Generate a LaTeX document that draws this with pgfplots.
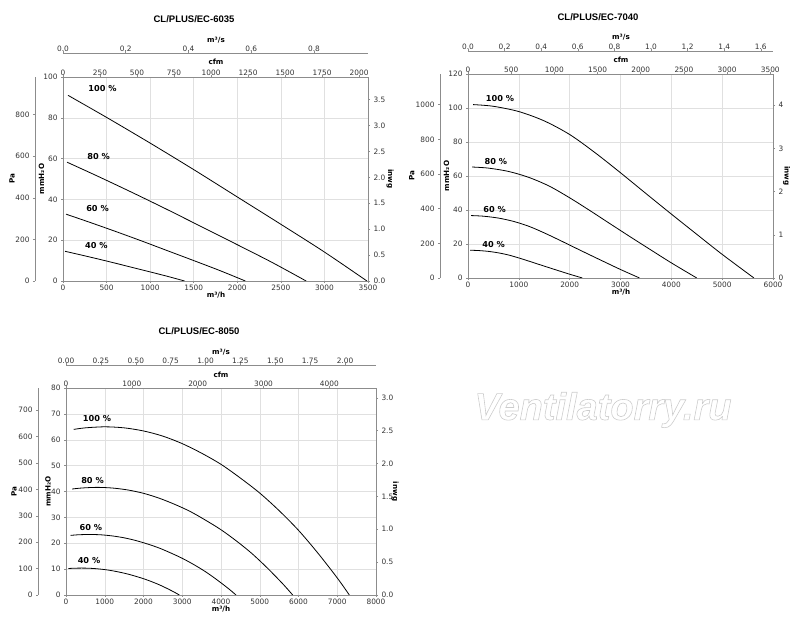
\documentclass[border=0pt]{standalone}
\usepackage{pgfplots}
\pgfplotsset{compat=1.18}
\usepackage{fontspec}
\setmainfont{DejaVu Sans}
\newfontfamily\titlefont{Liberation Sans}
\newcommand\tickfont{\fontsize{7.4}{8}\selectfont}
\newcommand\labfont{\fontsize{7.2}{8}\selectfont\bfseries}
\newcommand\pctfont{\fontsize{8.2}{9}\selectfont\bfseries}
\newcommand\ttlfont{\titlefont\fontsize{9.5}{11}\selectfont\bfseries}
\pgfplotsset{
  base/.style={scale only axis, anchor=south west,
    axis line style={draw=black!45, line width=0.6pt},
    tick style={draw=black!45, line width=0.5pt},
    major tick length=2pt, tick align=outside,
    tick label style={font=\tickfont, text=black!80},
    /pgf/number format/assume math mode=true,
    /pgf/number format/1000 sep={}},
  mainax/.style={xtick pos=lower, ytick pos=left, grid=major,
    grid style={black!12, line width=0.5pt}, xticklabel style={yshift=1.5pt}},
  topax/.style={hide y axis, axis x line*=top, xticklabel style={yshift=-4.5pt}},
  curve/.style={black, line width=0.8pt, smooth, no markers},
  dec1/.style={#1ticklabel style={/pgf/number format/.cd, fixed, fixed zerofill, precision=1}},
  dec2/.style={#1ticklabel style={/pgf/number format/.cd, fixed, fixed zerofill, precision=2}},
}
\begin{document}
\begin{tikzpicture}
\path[use as bounding box] (0pt,0pt) rectangle (800pt,626pt);

% ================= Chart 1: CL/PLUS/EC-6035 =================
\begin{axis}[base, mainax, at={(63pt,345pt)}, width=305pt, height=204pt,
  xmin=0, xmax=3500, ymin=0, ymax=100,
  xtick={0,500,1000,1500,2000,2500,3000,3500}, ytick={0,20,40,60,80,100}]
\addplot[curve] coordinates {(58,91) (500,80.2) (1000,67.6) (1500,54.6) (2000,41.2) (2500,27.8) (3000,14.2) (3488,0)};
\addplot[curve] coordinates {(46.4,58.24) (400,51.33) (800,43.26) (1200,34.94) (1600,26.37) (2000,17.79) (2400,9.09) (2790,0)};
\addplot[curve] coordinates {(34.8,32.76) (300,28.87) (600,24.34) (900,19.66) (1200,14.83) (1500,10.01) (1800,5.11) (2093,0)};
\addplot[curve] coordinates {(23.2,14.56) (200,12.83) (400,10.82) (600,8.74) (800,6.59) (1000,4.45) (1200,2.27) (1395,0)};
\end{axis}
\begin{axis}[base, at={(63pt,345pt)}, width=305pt, height=204pt,
  xmin=0, xmax=1, ymin=0, ymax=3.937, hide x axis, axis y line*=right,
  ytick={0,0.5,1,1.5,2,2.5,3,3.5}, dec1=y]
\end{axis}
\begin{axis}[base, topax, at={(63pt,345pt)}, width=305pt, height=204pt,
  xmin=0, xmax=2060, ymin=0, ymax=1,
  xtick={0,250,500,750,1000,1250,1500,1750,2000}]
\end{axis}
\begin{axis}[base, at={(35pt,345pt)}, width=305pt, height=204pt,
  xmin=0, xmax=1, ymin=0, ymax=980.665, hide x axis, axis y line*=left,
  ytick={0,200,400,600,800}]
\end{axis}
\begin{axis}[base, topax, at={(63pt,369pt)}, width=305pt, height=204pt,
  xmin=0, xmax=0.97222, ymin=0, ymax=1,
  xtick={0,0.2,0.4,0.6,0.8}, dec1=x]
\end{axis}
\node[font=\ttlfont] at (194pt,607pt) {CL/PLUS/EC-6035};
\node[font=\labfont] at (216pt,586pt) {m³/s};
\node[font=\labfont] at (216pt,564pt) {cfm};
\node[font=\labfont] at (216pt,330.5pt) {m³/h};
\node[font=\labfont, rotate=90] at (12pt,447pt) {Pa};
\node[font=\labfont, rotate=90] at (41.5pt,447pt) {mmH₂O};
\node[font=\labfont, rotate=-90] at (390pt,447pt) {inwg};
\node[font=\pctfont] at (102.5pt,537.7pt) {100 \%};
\node[font=\pctfont] at (98.7pt,469.3pt) {80 \%};
\node[font=\pctfont] at (97.5pt,417.3pt) {60 \%};
\node[font=\pctfont] at (96.3pt,380.3pt) {40 \%};

% ================= Chart 2: CL/PLUS/EC-7040 =================
\begin{axis}[base, mainax, at={(468pt,348pt)}, width=305pt, height=204pt,
  xmin=0, xmax=6000, ymin=0, ymax=120,
  xtick={0,1000,2000,3000,4000,5000,6000}, ytick={0,20,40,60,80,100,120}]
\addplot[curve] coordinates {(100,102.0) (500,101.0) (1000,97.9) (1500,92.4) (2000,84.4) (2500,73.7) (3000,61.9) (3500,49.7) (4000,37.6) (4500,25.7) (5000,13.9) (5625,0)};
\addplot[curve] coordinates {(80,65.28) (400,64.64) (800,62.66) (1200,59.14) (1600,54.02) (2000,47.17) (2400,39.62) (2800,31.81) (3200,24.06) (3600,16.45) (4000,8.9) (4500,0)};
\addplot[curve] coordinates {(60,36.72) (300,36.36) (600,35.24) (900,33.26) (1200,30.38) (1500,26.53) (1800,22.28) (2100,17.89) (2400,13.54) (2700,9.25) (3000,5.0) (3375,0)};
\addplot[curve] coordinates {(40,16.32) (200,16.16) (400,15.66) (600,14.78) (800,13.5) (1000,11.79) (1200,9.9) (1400,7.95) (1600,6.02) (1800,4.11) (2000,2.22) (2250,0)};
\end{axis}
\begin{axis}[base, at={(468pt,348pt)}, width=305pt, height=204pt,
  xmin=0, xmax=1, ymin=0, ymax=4.724, hide x axis, axis y line*=right,
  ytick={0,1,2,3,4}]
\end{axis}
\begin{axis}[base, topax, at={(468pt,348pt)}, width=305pt, height=204pt,
  xmin=0, xmax=3531.5, ymin=0, ymax=1,
  xtick={0,500,1000,1500,2000,2500,3000,3500}]
\end{axis}
\begin{axis}[base, at={(440pt,348pt)}, width=305pt, height=204pt,
  xmin=0, xmax=1, ymin=0, ymax=1176.8, hide x axis, axis y line*=left,
  ytick={0,200,400,600,800,1000}]
\end{axis}
\begin{axis}[base, topax, at={(468pt,371pt)}, width=305pt, height=204pt,
  xmin=0, xmax=1.66667, ymin=0, ymax=1,
  xtick={0,0.2,0.4,0.6,0.8,1.0,1.2,1.4,1.6}, dec1=x]
\end{axis}
\node[font=\ttlfont] at (598pt,609pt) {CL/PLUS/EC-7040};
\node[font=\labfont] at (621pt,589pt) {m³/s};
\node[font=\labfont] at (621pt,566pt) {cfm};
\node[font=\labfont] at (621pt,333.5pt) {m³/h};
\node[font=\labfont, rotate=90] at (411.7pt,450pt) {Pa};
\node[font=\labfont, rotate=90] at (446.5pt,450pt) {mmH₂O};
\node[font=\labfont, rotate=-90] at (786.5pt,450pt) {inwg};
\node[font=\pctfont] at (500pt,527pt) {100 \%};
\node[font=\pctfont] at (495.8pt,464.3pt) {80 \%};
\node[font=\pctfont] at (494.7pt,416pt) {60 \%};
\node[font=\pctfont] at (493.7pt,381.7pt) {40 \%};

% ================= Chart 3: CL/PLUS/EC-8050 =================
\begin{axis}[base, mainax, at={(66pt,31pt)}, width=310pt, height=207pt,
  xmin=0, xmax=8000, ymin=0, ymax=80,
  xtick={0,1000,2000,3000,4000,5000,6000,7000,8000}, ytick={0,10,20,30,40,50,60,70,80}]
\addplot[curve] coordinates {(200,64.0) (500,64.6) (1000,65.0) (1500,64.6) (2000,63.4) (2500,61.4) (3000,58.5) (3500,54.8) (4000,50.5) (4500,45.2) (5000,39.4) (5500,32.6) (6000,25.0) (6500,16.2) (7000,6.6) (7312,0)};
\addplot[curve] coordinates {(160,40.96) (400,41.34) (800,41.6) (1200,41.34) (1600,40.58) (2000,39.3) (2400,37.44) (2800,35.07) (3200,32.32) (3600,28.93) (4000,25.22) (4400,20.86) (4800,16.0) (5200,10.37) (5600,4.22) (5850,0)};
\addplot[curve] coordinates {(120,23.04) (300,23.26) (600,23.4) (900,23.26) (1200,22.82) (1500,22.1) (1800,21.06) (2100,19.73) (2400,18.18) (2700,16.27) (3000,14.18) (3300,11.74) (3600,9.0) (3900,5.83) (4200,2.38) (4387,0)};
\addplot[curve] coordinates {(60,10.24) (200,10.34) (400,10.4) (600,10.34) (800,10.14) (1000,9.82) (1200,9.36) (1400,8.77) (1600,8.08) (1800,7.23) (2000,6.3) (2200,5.22) (2400,4.0) (2600,2.59) (2800,1.06) (2925,0)};
\end{axis}
\begin{axis}[base, at={(66pt,31pt)}, width=310pt, height=207pt,
  xmin=0, xmax=1, ymin=0, ymax=3.1496, hide x axis, axis y line*=right,
  ytick={0,0.5,1,1.5,2,2.5,3}, dec1=y]
\end{axis}
\begin{axis}[base, topax, at={(66pt,31pt)}, width=310pt, height=207pt,
  xmin=0, xmax=4708.6, ymin=0, ymax=1,
  xtick={0,1000,2000,3000,4000}]
\end{axis}
\begin{axis}[base, at={(38pt,31pt)}, width=310pt, height=207pt,
  xmin=0, xmax=1, ymin=0, ymax=784.53, hide x axis, axis y line*=left,
  ytick={0,100,200,300,400,500,600,700}]
\end{axis}
\begin{axis}[base, topax, at={(66pt,54pt)}, width=310pt, height=207pt,
  xmin=0, xmax=2.22222, ymin=0, ymax=1,
  xtick={0,0.25,0.5,0.75,1,1.25,1.5,1.75,2}, dec2=x]
\end{axis}
\node[font=\ttlfont] at (199pt,295pt) {CL/PLUS/EC-8050};
\node[font=\labfont] at (221pt,274pt) {m³/s};
\node[font=\labfont] at (221pt,251pt) {cfm};
\node[font=\labfont] at (221pt,16.5pt) {m³/h};
\node[font=\labfont, rotate=90] at (14pt,134.5pt) {Pa};
\node[font=\labfont, rotate=90] at (48pt,134.5pt) {mmH₂O};
\node[font=\labfont, rotate=-90] at (395pt,134.5pt) {inwg};
\node[font=\pctfont] at (97pt,207pt) {100 \%};
\node[font=\pctfont] at (92.5pt,145.7pt) {80 \%};
\node[font=\pctfont] at (90.8pt,98.7pt) {60 \%};
\node[font=\pctfont] at (89pt,65.3pt) {40 \%};

% watermark
\node[font=\titlefont\fontsize{38}{40}\selectfont\bfseries\itshape, text=black!8] at (603pt,216pt)
  {\special{pdf:literal direct 1 Tr 0.6 w 0.8 G}Ventilatorry.ru\special{pdf:literal direct 0 Tr}};
\end{tikzpicture}
\end{document}
